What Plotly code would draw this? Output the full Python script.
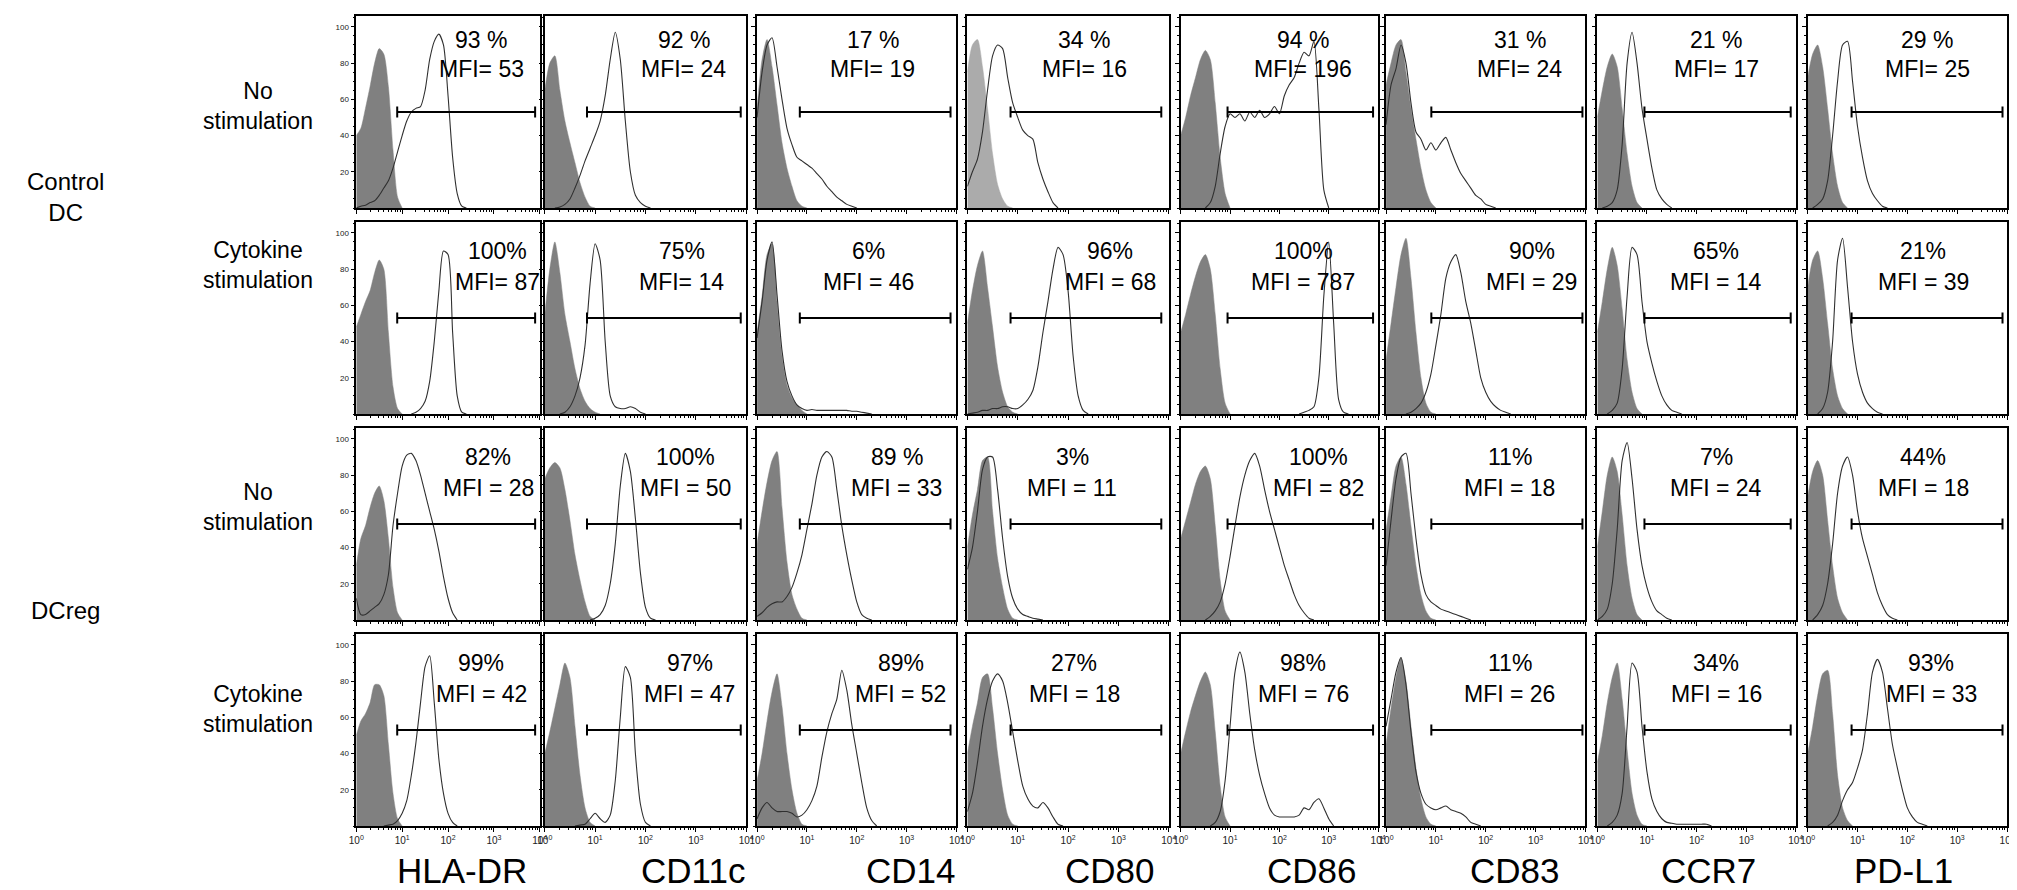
import plotly.graph_objects as go
from plotly.subplots import make_subplots

# ---- data ---------------------------------------------------------------
markers = ["HLA-DR", "CD11c", "CD14", "CD80", "CD86", "CD83", "CCR7", "PD-L1"]
group_labels = ["Control<br>DC", "DCreg"]
stim_labels = ["No<br>stimulation", "Cytokine<br>stimulation",
               "No<br>stimulation", "Cytokine<br>stimulation"]

decade_ticks = [1, 10, 100, 1000, 10000]
decade_labels = ["10<sup>0</sup>", "10<sup>1</sup>", "10<sup>2</sup>",
                 "10<sup>3</sup>", "10<sup>4</sup>"]
count_ticks = [20, 40, 60, 80, 100]

BIN_STEP = 0.1  # histogram channel width in decades

# each histogram: (log10 of first channel, counts per channel)
ctrl_nostim_iso = [
    (0.0, [40, 44, 55, 67, 80, 88, 85, 67, 32, 6, 0]),
    (0.0, [65, 80, 84, 65, 48, 36, 25, 14, 6, 1, 0]),
    (0.0, [55, 82, 93, 78, 57, 36, 22, 12, 4, 1, 0]),
    (0.0, [75, 90, 93, 78, 55, 30, 13, 5, 1, 0]),
    (0.0, [40, 50, 62, 72, 82, 87, 82, 58, 28, 8, 0]),
    (0.0, [68, 80, 90, 93, 75, 55, 38, 22, 10, 3, 0]),
    (0.0, [50, 65, 78, 85, 78, 55, 30, 12, 3, 0]),
    (0.0, [72, 85, 90, 78, 55, 30, 12, 3, 0]),
]
ctrl_nostim_stain = [
    (0.0, [0, 1, 1.5, 3, 4, 7, 11, 15, 22, 31, 40, 48, 53, 55, 56, 65, 82, 92, 96, 90, 62, 28, 8, 1, 0]),
    (0.2, [0, 0.5, 2, 5, 11, 18, 26, 33, 40, 48, 62, 82, 97, 82, 48, 20, 7, 3, 1, 0]),
    (0.0, [50, 75, 90, 94, 78, 60, 44, 35, 28, 26, 24, 22, 19, 16, 12, 9, 6, 4, 2, 1, 0]),
    (0.0, [12, 20, 27, 42, 65, 84, 90, 88, 72, 58, 50, 43, 40, 38, 25, 16, 9, 3, 0]),
    (0.5, [0, 3, 12, 30, 45, 52, 50, 52, 48, 53, 50, 54, 50, 52, 56, 52, 62, 68, 72, 80, 86, 84, 92, 55, 10, 0]),
    (0.0, [46, 68, 77, 90, 80, 58, 42, 38, 32, 36, 32, 36, 39, 32, 25, 19, 15, 11, 7, 5, 2, 1, 0]),
    (0.1, [0, 1, 3, 10, 35, 80, 97, 80, 55, 38, 22, 10, 5, 2, 0]),
    (0.1, [0, 2, 5, 15, 40, 70, 90, 92, 70, 45, 28, 15, 8, 4, 1, 0]),
]
ctrl_nostim_pct = ["93 %", "92 %", "17 %", "34 %", "94 %", "31 %", "21 %", "29 %"]
ctrl_nostim_mfi = ["MFI= 53", "MFI= 24", "MFI= 19", "MFI= 16", "MFI= 196", "MFI= 24", "MFI= 17", "MFI= 25"]

ctrl_cyto_iso = [
    (0.0, [48, 55, 62, 68, 78, 85, 80, 45, 15, 3, 0]),
    (0.0, [55, 80, 95, 78, 55, 40, 25, 14, 7, 3, 1, 0]),
    (0.0, [45, 65, 88, 94, 62, 32, 16, 9, 5, 2, 0]),
    (0.0, [50, 68, 82, 90, 70, 48, 26, 12, 4, 1, 0]),
    (0.0, [45, 55, 66, 76, 84, 88, 80, 55, 25, 6, 0]),
    (0.0, [30, 50, 70, 88, 97, 75, 45, 20, 6, 1, 0]),
    (0.0, [45, 62, 80, 92, 82, 58, 30, 12, 3, 0]),
    (0.0, [70, 85, 90, 75, 50, 25, 10, 3, 0]),
]
ctrl_cyto_stain = [
    (1.2, [0, 1, 3, 7, 18, 40, 68, 90, 88, 45, 10, 1, 0]),
    (0.3, [0, 1, 4, 10, 20, 38, 72, 94, 85, 40, 10, 4, 3, 3, 4, 3, 1, 0]),
    (0.0, [42, 62, 85, 95, 66, 35, 18, 10, 5, 3, 2, 2.5, 2, 2, 2, 2, 2, 2, 2, 1.5, 1.5, 1, 0.5, 0]),
    (0.0, [0, 0.5, 1, 2, 2, 3, 3, 4, 4, 3, 3, 5, 8, 13, 26, 45, 62, 80, 92, 88, 68, 32, 10, 2, 0]),
    (2.4, [0, 1, 2, 4, 20, 65, 95, 50, 8, 1, 0]),
    (0.4, [0, 1, 3, 6, 12, 22, 38, 55, 75, 84, 88, 78, 62, 50, 35, 20, 12, 7, 4, 2, 1, 0]),
    (0.2, [0, 2, 6, 25, 65, 92, 88, 62, 40, 28, 18, 10, 5, 2, 1, 0]),
    (0.2, [0, 3, 12, 40, 85, 97, 70, 40, 22, 12, 6, 3, 1, 0]),
]
ctrl_cyto_pct = ["100%", "75%", "6%", "96%", "100%", "90%", "65%", "21%"]
ctrl_cyto_mfi = ["MFI= 87", "MFI= 14", "MFI = 46", "MFI = 68", "MFI = 787", "MFI = 29", "MFI = 14", "MFI = 39"]

dcreg_nostim_iso = [
    (0.0, [30, 45, 52, 62, 70, 74, 66, 45, 18, 4, 0]),
    (0.0, [78, 84, 87, 84, 72, 55, 36, 22, 10, 2, 0]),
    (0.0, [42, 60, 76, 88, 93, 62, 32, 14, 6, 1, 0]),
    (0.0, [40, 58, 72, 88, 90, 60, 34, 18, 6, 1, 0]),
    (0.0, [45, 55, 65, 75, 82, 85, 78, 52, 22, 5, 0]),
    (0.0, [50, 68, 85, 90, 75, 52, 30, 14, 5, 1, 0]),
    (0.0, [40, 60, 80, 90, 82, 58, 30, 12, 3, 0]),
    (0.0, [68, 82, 88, 80, 55, 30, 12, 4, 0]),
]
dcreg_nostim_stain = [
    (0.0, [12, 3, 3, 5, 7, 9, 14, 25, 52, 70, 85, 91, 92, 88, 80, 70, 60, 50, 38, 24, 12, 4, 0]),
    (0.9, [0, 1, 3, 8, 20, 42, 74, 92, 82, 56, 26, 7, 1, 0]),
    (0.0, [2, 4, 7, 9, 10, 10, 13, 18, 26, 36, 50, 64, 80, 90, 93, 90, 72, 52, 36, 22, 10, 3, 1, 0]),
    (0.0, [28, 40, 60, 83, 90, 90, 72, 45, 24, 12, 6, 3, 2, 1, 0.5, 0]),
    (0.5, [0, 2, 5, 10, 20, 35, 52, 68, 80, 88, 92, 85, 72, 60, 50, 40, 30, 22, 14, 8, 4, 1, 0]),
    (0.0, [30, 55, 78, 90, 92, 70, 45, 25, 14, 10, 8, 6, 5, 4, 3, 2, 1, 0]),
    (0.0, [0, 2, 6, 20, 50, 88, 98, 78, 50, 30, 18, 10, 5, 3, 1, 0]),
    (0.1, [0, 3, 8, 20, 42, 70, 85, 90, 80, 60, 45, 35, 25, 15, 8, 3, 1, 0]),
]
dcreg_nostim_pct = ["82%", "100%", "89 %", "3%", "100%", "11%", "7%", "44%"]
dcreg_nostim_mfi = ["MFI = 28", "MFI = 50", "MFI = 33", "MFI = 11", "MFI = 82", "MFI = 18", "MFI = 24", "MFI = 18"]

dcreg_cyto_iso = [
    (0.0, [50, 58, 62, 68, 78, 78, 72, 45, 18, 4, 0]),
    (0.0, [40, 52, 65, 78, 90, 82, 55, 28, 10, 2, 0]),
    (0.0, [25, 40, 58, 74, 84, 66, 40, 20, 7, 1, 0]),
    (0.0, [40, 55, 68, 82, 84, 65, 40, 20, 6, 1, 0]),
    (0.0, [40, 52, 63, 72, 80, 85, 78, 52, 22, 5, 0]),
    (0.0, [45, 65, 82, 93, 80, 55, 32, 15, 5, 1, 0]),
    (0.0, [35, 50, 68, 82, 90, 70, 42, 18, 6, 1, 0]),
    (0.0, [40, 55, 72, 84, 86, 62, 28, 10, 3, 0]),
]
dcreg_cyto_stain = [
    (0.6, [0, 0.5, 1, 3, 7, 14, 28, 46, 68, 88, 94, 68, 37, 18, 7, 2, 0]),
    (0.6, [0, 0.5, 1, 4, 7, 4, 2, 6, 25, 60, 88, 82, 40, 12, 2, 0]),
    (0.0, [4, 10, 13, 10, 8, 8, 8, 7, 5, 6, 9, 14, 22, 38, 52, 62, 70, 86, 75, 56, 40, 24, 10, 3, 0]),
    (0.0, [8, 18, 35, 55, 70, 80, 84, 80, 68, 52, 36, 22, 15, 11, 10, 13, 10, 5, 1, 0]),
    (0.6, [0, 2, 8, 25, 55, 85, 96, 85, 62, 42, 28, 18, 10, 6, 5, 5, 5, 5, 6, 10, 9, 13, 15, 10, 4, 0]),
    (0.0, [55, 70, 85, 93, 78, 52, 30, 18, 12, 10, 9, 10, 11, 9, 8, 7, 5, 2, 1, 0]),
    (0.2, [0, 2, 6, 18, 55, 90, 85, 55, 30, 15, 8, 4, 2, 1.5, 1, 1, 1, 1, 1, 1, 1, 0]),
    (0.4, [0, 2, 6, 14, 20, 24, 32, 42, 62, 85, 92, 85, 65, 45, 32, 20, 10, 5, 2, 1, 0]),
]
dcreg_cyto_pct = ["99%", "97%", "89%", "27%", "98%", "11%", "34%", "93%"]
dcreg_cyto_mfi = ["MFI = 42", "MFI = 47", "MFI = 52", "MFI = 18", "MFI = 76", "MFI = 26", "MFI = 16", "MFI = 33"]

# positive gate per marker (fluorescence units) and its drawing height
gate_lo = [7.8, 6.9, 7.2, 7.2, 8.9, 8.1, 8.9, 7.6]
gate_hi = [7900, 7800, 7600, 7100, 7900, 8700, 7900, 8100]
GATE_Y = 53

# ---- layout (pixels of the 2017 x 890 page) -------------------------------
W, H = 2017, 890
col_left = [343, 533, 747, 959, 1174, 1381, 1594, 1806]
col_right = [528, 736, 948, 1162, 1373, 1582, 1794, 2007]
row_top = [8, 214, 420, 626]
row_bottom = [200, 406, 612, 818]

label_xfrac = [
    [0.68, 0.69, 0.58, 0.58, 0.62, 0.67, 0.60, 0.60],
    [0.77, 0.68, 0.56, 0.71, 0.62, 0.73, 0.60, 0.58],
    [0.72, 0.70, 0.70, 0.52, 0.70, 0.62, 0.60, 0.58],
    [0.68, 0.72, 0.72, 0.53, 0.62, 0.62, 0.60, 0.62],
]
label_y = [(93, 77), (90, 73), (90, 73), (90, 73)]

FONT = "Liberation Sans, Arial, sans-serif"
ISO_GREY = "#808080"
LIGHT_GREY = "#ababab"
LINE_GREY = "#303030"

panels = [
    (ctrl_nostim_iso, ctrl_nostim_stain, ctrl_nostim_pct, ctrl_nostim_mfi),
    (ctrl_cyto_iso, ctrl_cyto_stain, ctrl_cyto_pct, ctrl_cyto_mfi),
    (dcreg_nostim_iso, dcreg_nostim_stain, dcreg_nostim_pct, dcreg_nostim_mfi),
    (dcreg_cyto_iso, dcreg_cyto_stain, dcreg_cyto_pct, dcreg_cyto_mfi),
]


def channels(hist):
    start, counts = hist
    xs = [10 ** (start + BIN_STEP * i) for i in range(len(counts))]
    return xs, counts


minor_x = [k * 10 ** d for d in range(4) for k in range(2, 10)]

fig = make_subplots(rows=4, cols=8)

for r, (iso, stain, pct, mfi) in enumerate(panels):
    for c in range(8):
        n = r * 8 + c + 1
        ax = "" if n == 1 else str(n)

        xs, ys = channels(iso[c])
        fill = LIGHT_GREY if (r == 0 and c == 3) else ISO_GREY
        fig.add_trace(go.Scatter(x=xs, y=ys, mode="lines", fill="tozeroy", fillcolor=fill,
                                 line=dict(color=fill, width=0.5, shape="spline", smoothing=0.7),
                                 hoverinfo="skip"), row=r + 1, col=c + 1)
        xs, ys = channels(stain[c])
        fig.add_trace(go.Scatter(x=xs, y=ys, mode="lines",
                                 line=dict(color=LINE_GREY, width=1.1, shape="spline", smoothing=0.7),
                                 hoverinfo="skip"), row=r + 1, col=c + 1)

        lo, hi = gate_lo[c], gate_hi[c]
        fig.add_trace(go.Scatter(x=[lo, lo, None, lo, hi, None, hi, hi],
                                 y=[GATE_Y - 3, GATE_Y + 3, None, GATE_Y, GATE_Y, None, GATE_Y - 3, GATE_Y + 3],
                                 mode="lines", line=dict(color="black", width=2),
                                 hoverinfo="skip"), row=r + 1, col=c + 1)

        fig.update_xaxes(domain=[col_left[c] / W, col_right[c] / W], row=r + 1, col=c + 1)
        fig.update_yaxes(domain=[1 - row_bottom[r] / H, 1 - row_top[r] / H], row=r + 1, col=c + 1)

        for txt, yv in zip((pct[c], mfi[c]), label_y[r]):
            fig.add_annotation(text=txt, xref=f"x{ax} domain", yref=f"y{ax}",
                               x=label_xfrac[r][c], y=yv, showarrow=False,
                               xanchor="center", yanchor="middle",
                               font=dict(family=FONT, size=23, color="black"))

fig.update_xaxes(type="log", range=[0, 4], showgrid=False, zeroline=False,
                 showline=True, mirror=True, linecolor="black", linewidth=1.5,
                 ticks="outside", ticklen=4, tickwidth=1, tickcolor="black",
                 tickmode="array", tickvals=decade_ticks, ticktext=decade_labels,
                 showticklabels=False,
                 tickfont=dict(family=FONT, size=10, color="#222"),
                 minor=dict(tickmode="array", tickvals=minor_x, ticks="outside",
                            ticklen=2, tickcolor="black", showgrid=False))
fig.update_xaxes(showticklabels=True, row=4)

fig.update_yaxes(range=[0, 106], showgrid=False, zeroline=False,
                 showline=True, mirror=True, linecolor="black", linewidth=1.5,
                 ticks="outside", ticklen=4, tickwidth=1, tickcolor="black",
                 tickmode="array", tickvals=count_ticks, showticklabels=False,
                 tickfont=dict(family=FONT, size=8, color="#222"),
                 minor=dict(tickmode="linear", tick0=0, dtick=5, ticks="outside",
                            ticklen=2, tickcolor="black", showgrid=False))
fig.update_yaxes(showticklabels=True, col=1)

# marker names under each column
col_label_shift = [14, 48, 54, 42, 32, 29, 12, -4]
for c, name in enumerate(markers):
    cx = (col_left[c] + col_right[c]) / 2 + col_label_shift[c]
    fig.add_annotation(text=name, xref="paper", yref="paper", x=cx / W, y=1 - 862 / H,
                       showarrow=False, xanchor="center", yanchor="middle",
                       font=dict(family=FONT, size=35, color="black"))

# row labels
stim_y = [98, 257, 499, 701]
for txt, yp in zip(stim_labels, stim_y):
    fig.add_annotation(text=txt, xref="paper", yref="paper", x=244 / W, y=1 - yp / H,
                       showarrow=False, xanchor="center", yanchor="middle", align="center",
                       font=dict(family=FONT, size=23, color="black"))
for txt, yp in zip(group_labels, [189, 602]):
    fig.add_annotation(text=txt, xref="paper", yref="paper", x=50 / W, y=1 - yp / H,
                       showarrow=False, xanchor="center", yanchor="middle", align="center",
                       font=dict(family=FONT, size=24, color="black"))

fig.update_layout(width=W, height=H, margin=dict(l=0, r=0, t=0, b=0),
                  showlegend=False, plot_bgcolor="white", paper_bgcolor="white")

fig.write_html("out.html")
